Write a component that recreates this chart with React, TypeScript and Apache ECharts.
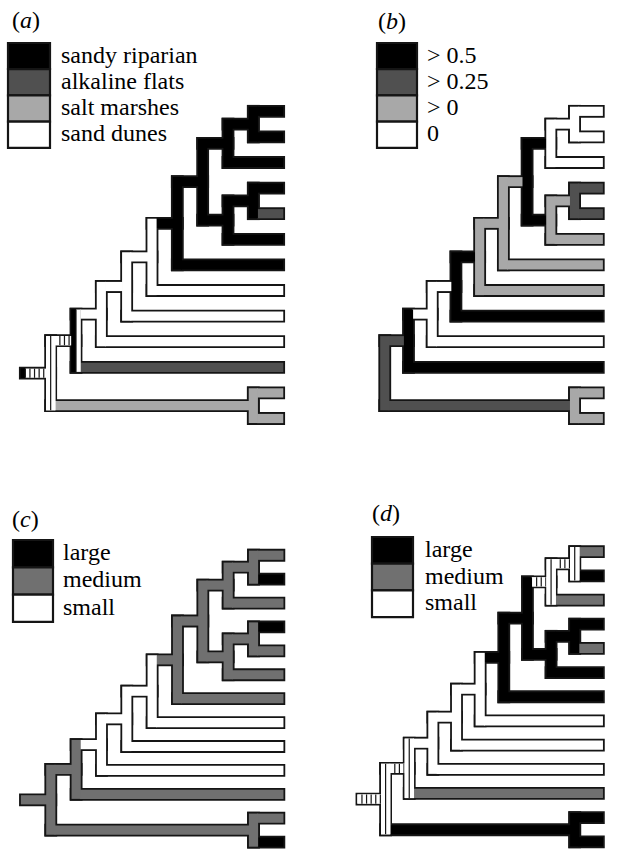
import React, { useEffect, useRef } from 'react';
import * as echarts from 'echarts';

// ---- tree topology (tips top to bottom; internal nodes in post-order) ----
const TIPS = ['t1', 't2', 't3', 't4', 't5', 't6', 't7', 't8', 't9', 't10', 't11', 't12', 't13'];
const NODES = ['N1', 'N2', 'N5', 'N4', 'N3', 'N6', 'E', 'D', 'C', 'A', 'B', 'R'];
const LEFT_CHILD = ['t1', 'N1', 't4', 'N5', 'N2', 'N3', 'N6', 'E', 'D', 'C', 't12', 'A'];
const RIGHT_CHILD = ['t2', 't3', 't5', 't6', 'N4', 't7', 't8', 't9', 't10', 't11', 't13', 'B'];

// ---- state codes: K black, D dark grey, L light grey, M medium grey, W white; several letters = equivocal (striped) ----
// panel (a): habitat
const TIP_COLORS_A = ['K', 'K', 'K', 'K', 'D', 'K', 'K', 'W', 'W', 'W', 'D', 'L', 'L'];
const BRANCH_COLORS_A = ['K', 'K', 'K', 'K', 'K', 'K', 'W', 'W', 'W', 'WW', 'L', 'KWWWWW'];
const NODE_COLORS_A = ['K', 'K', 'K', 'K', 'K', 'K', 'W', 'W', 'W', 'KW', 'L', 'WW'];
// panel (b): probability
const TIP_COLORS_B = ['W', 'W', 'W', 'D', 'D', 'L', 'L', 'L', 'K', 'W', 'K', 'L', 'L'];
const BRANCH_COLORS_B = ['W', 'K', 'L', 'K', 'L', 'L', 'K', 'W', 'W', 'D', 'D', ''];
const NODE_COLORS_B = ['W', 'W', 'D', 'L', 'K', 'L', 'L', 'K', 'W', 'K', 'L', 'D'];
// panel (c): size
const TIP_COLORS_C = ['M', 'K', 'M', 'K', 'M', 'M', 'M', 'W', 'W', 'W', 'M', 'M', 'K'];
const BRANCH_COLORS_C = ['M', 'M', 'M', 'M', 'M', 'M', 'W', 'W', 'W', 'M', 'M', 'M'];
const NODE_COLORS_C = ['M', 'M', 'M', 'M', 'M', 'M', 'W', 'W', 'W', 'M', 'M', 'M'];
// panel (d): size
const TIP_COLORS_D = ['M', 'K', 'M', 'K', 'M', 'K', 'K', 'W', 'W', 'W', 'M', 'K', 'K'];
const BRANCH_COLORS_D = ['WW', 'WW', 'K', 'K', 'K', 'K', 'W', 'W', 'W', 'WW', 'K', 'WW'];
const NODE_COLORS_D = ['WW', 'WW', 'K', 'K', 'K', 'K', 'W', 'W', 'W', 'WW', 'K', 'WW'];

// ---- legends ----
const PANEL_LETTERS = ['a', 'b', 'c', 'd'];
const LEGEND_LABELS_A = ['sandy riparian', 'alkaline flats', 'salt marshes', 'sand dunes'];
const LEGEND_LABELS_B = ['> 0.5', '> 0.25', '> 0', '0'];
const LEGEND_CODES_AB = ['K', 'D', 'L', 'W'];
const LEGEND_LABELS_CD = ['large', 'medium', 'small'];
const LEGEND_CODES_CD = ['K', 'M', 'W'];

const PALETTE: Record<string, string> = { K: '#000000', D: '#505050', L: '#a8a8a8', M: '#707070', W: '#ffffff' };
const OUTLINE = '#151515';
const FONT_FAMILY = "'Liberation Serif', 'Times New Roman', serif";
const FONT_SIZE = 24;
const FONT = `${FONT_SIZE}px ${FONT_FAMILY}`;
const FONT_ITALIC = `italic ${FONT_SIZE}px ${FONT_FAMILY}`;

const HW_OUT = 6.4;
const HW_FILL = 4.6;
const STRIPE = 4.6;
const SEAM = 0.8;
const COL_PX = 12.67;

function layoutTree() {
  const row: Record<string, number> = {};
  const height: Record<string, number> = {};
  const col: Record<string, number> = {};
  const parent: Record<string, string> = {};
  TIPS.forEach((t, i) => { row[t] = 2 * i; height[t] = 0; });
  NODES.forEach((n, i) => {
    const l = LEFT_CHILD[i], r = RIGHT_CHILD[i];
    row[n] = (row[l] + row[r]) / 2;
    height[n] = 1 + Math.max(height[l], height[r]);
    parent[l] = n; parent[r] = n;
  });
  const maxH = height[NODES[NODES.length - 1]];
  TIPS.forEach((t) => { col[t] = 2 * maxH; });
  NODES.forEach((n) => { col[n] = 2 * (maxH - height[n]); });
  return { row, col, parent };
}

type Seg = { kind: 'h' | 'v'; x1: number; x2: number; y1: number; y2: number; code: string; end?: string };

function buildSegments(tipColors: string[], branchColors: string[], nodeColors: string[]): Seg[] {
  const { row, col, parent } = layoutTree();
  const segs: Seg[] = [];
  TIPS.forEach((t, i) => segs.push({ kind: 'h', x1: col[parent[t]], x2: col[t], y1: row[t], y2: row[t], code: tipColors[i], end: 'tip' }));
  NODES.forEach((n, i) => {
    if (!parent[n]) {
      if (branchColors[i]) segs.push({ kind: 'h', x1: col[n] - 2, x2: col[n], y1: row[n], y2: row[n], code: branchColors[i], end: 'stem' });
    } else {
      segs.push({ kind: 'h', x1: col[parent[n]], x2: col[n], y1: row[n], y2: row[n], code: branchColors[i], end: 'node' });
    }
  });
  NODES.forEach((n, i) => {
    const a = row[LEFT_CHILD[i]], b = row[RIGHT_CHILD[i]];
    segs.push({ kind: 'v', x1: col[n], x2: col[n], y1: Math.min(a, b), y2: Math.max(a, b), code: nodeColors[i] });
  });
  return segs;
}

function stripedRects(x: number, y: number, w: number, h: number, code: string, x0: number, w0: number) {
  if (code.length <= 1) {
    return [{ type: 'rect', shape: { x, y, width: w, height: h }, style: { fill: PALETTE[code] } }];
  }
  const out: any[] = [{ type: 'rect', shape: { x, y, width: w, height: h }, style: { fill: PALETTE[code[0]] } }];
  for (let k = 0; ; k++) {
    const sx = x0 + k * STRIPE;
    const sw = Math.min(STRIPE, x0 + w0 - sx);
    if (sw <= 0.01) break;
    out.push({ type: 'rect', shape: { x: sx, y, width: sw + 0.2, height: h }, style: { fill: PALETTE[code[k % code.length]] } });
  }
  for (let k = 1; ; k++) {
    const dx = x0 + k * STRIPE;
    if (dx >= x0 + w0 - 0.5) break;
    out.push({ type: 'rect', shape: { x: dx - 0.6, y, width: 1.2, height: h }, style: { fill: OUTLINE } });
  }
  return out;
}

const PANELS = [
  { x0: 50.6, y0: 111.3, rowPx: 12.8, tip: TIP_COLORS_A, branch: BRANCH_COLORS_A, node: NODE_COLORS_A },
  { x0: 388.0, y0: 111.3, rowPx: 12.8, tip: TIP_COLORS_B, branch: BRANCH_COLORS_B, node: NODE_COLORS_B },
  { x0: 50.8, y0: 556.7, rowPx: 12.68, tip: TIP_COLORS_C, branch: BRANCH_COLORS_C, node: NODE_COLORS_C },
  { x0: 389.0, y0: 553.0, rowPx: 12.75, tip: TIP_COLORS_D, branch: BRANCH_COLORS_D, node: NODE_COLORS_D },
];

const LEGEND_LAYOUT = [
  { labelX: 12, labelY: 20, boxX: 8, boxY: 43, boxW: 42, boxH: 26.2, textX: 61, labels: LEGEND_LABELS_A, codes: LEGEND_CODES_AB },
  { labelX: 378, labelY: 21, boxX: 377, boxY: 43, boxW: 40, boxH: 26.2, textX: 427, labels: LEGEND_LABELS_B, codes: LEGEND_CODES_AB },
  { labelX: 12, labelY: 519, boxX: 13, boxY: 540, boxW: 40, boxH: 27.3, textX: 63, labels: LEGEND_LABELS_CD, codes: LEGEND_CODES_CD },
  { labelX: 372, labelY: 513, boxX: 372, boxY: 537, boxW: 41, boxH: 26.7, textX: 425, labels: LEGEND_LABELS_CD, codes: LEGEND_CODES_CD },
];

function buildOption() {
  const grid: any[] = [], xAxis: any[] = [], yAxis: any[] = [], series: any[] = [], graphic: any[] = [];
  PANELS.forEach((p, k) => {
    grid.push({ left: p.x0 - 4 * COL_PX, top: p.y0 - 2 * p.rowPx, width: 24 * COL_PX, height: 28 * p.rowPx, containLabel: false });
    xAxis.push({ type: 'value', gridIndex: k, min: -4, max: 20, show: false });
    yAxis.push({ type: 'value', gridIndex: k, min: -2, max: 26, inverse: true, show: false });
    const segs = buildSegments(p.tip, p.branch, p.node);
    const data = segs.map((s) => [s.x1, s.y1, s.x2, s.y2]);
    series.push({
      type: 'custom', coordinateSystem: 'cartesian2d', xAxisIndex: k, yAxisIndex: k, z: 1, clip: false, silent: true,
      encode: { x: [0, 2], y: [1, 3] }, data,
      renderItem: (params: any, api: any) => {
        const s = segs[params.dataIndex];
        const p1 = api.coord([s.x1, s.y1]);
        const p2 = api.coord([s.x2, s.y2]);
        return {
          type: 'rect',
          shape: {
            x: Math.min(p1[0], p2[0]) - HW_OUT, y: Math.min(p1[1], p2[1]) - HW_OUT,
            width: Math.abs(p2[0] - p1[0]) + 2 * HW_OUT, height: Math.abs(p2[1] - p1[1]) + 2 * HW_OUT,
          },
          style: { fill: OUTLINE },
        };
      },
    });
    [['h', 2], ['v', 3]].forEach(([kind, z]) => {
      series.push({
        type: 'custom', coordinateSystem: 'cartesian2d', xAxisIndex: k, yAxisIndex: k, z, clip: false, silent: true,
        encode: { x: [0, 2], y: [1, 3] }, data,
        renderItem: (params: any, api: any) => {
          const s = segs[params.dataIndex];
          if (s.kind !== kind) return { type: 'group', children: [] };
          const p1 = api.coord([s.x1, s.y1]);
          const p2 = api.coord([s.x2, s.y2]);
          if (s.kind === 'v') {
            const x1 = p1[0] - HW_FILL, y1 = p1[1] - HW_FILL, w = 2 * HW_FILL, h = p2[1] - p1[1] + 2 * HW_FILL;
            return { type: 'group', children: stripedRects(x1, y1, w, h, s.code, x1, w) };
          }
          const y1 = p1[1] - HW_FILL, h = 2 * HW_FILL;
          let x1: number, x2: number, e1 = 0, e2 = 0;
          if (s.end === 'stem') { x1 = p1[0] - HW_FILL; x2 = p2[0] - HW_FILL; e2 = SEAM; }
          else if (s.end === 'tip') { x1 = p1[0] + HW_FILL; x2 = p2[0] + HW_FILL; e1 = SEAM; }
          else { x1 = p1[0] + HW_FILL; x2 = p2[0] - HW_FILL; e1 = SEAM; e2 = SEAM; }
          return { type: 'group', children: stripedRects(x1 - e1, y1, x2 - x1 + e1 + e2, h, s.code, x1, x2 - x1) };
        },
      });
    });

    const L = LEGEND_LAYOUT[k];
    graphic.push({
      type: 'text', x: L.labelX, y: L.labelY, silent: true,
      style: {
        text: '({i|' + PANEL_LETTERS[k] + '})', font: FONT, fill: '#000',
        verticalAlign: 'middle', align: 'left',
        rich: { i: { font: FONT_ITALIC, fill: '#000' } },
      },
    });
    L.labels.forEach((lab, j) => {
      graphic.push({
        type: 'rect', silent: true,
        shape: { x: L.boxX, y: L.boxY + j * L.boxH, width: L.boxW, height: L.boxH },
        style: { fill: PALETTE[L.codes[j]], stroke: OUTLINE, lineWidth: 2.2 },
      });
      graphic.push({
        type: 'text', silent: true, x: L.textX, y: L.boxY + (j + 0.5) * L.boxH - 1.5,
        style: { text: lab, font: FONT, fill: '#000', verticalAlign: 'middle', align: 'left' },
      });
    });
  });
  return { animation: false, backgroundColor: '#ffffff', grid, xAxis, yAxis, series, graphic };
}

export default function App() {
  const ref = useRef<HTMLDivElement>(null);
  useEffect(() => {
    if (!ref.current) return;
    const chart = echarts.init(ref.current, undefined, { renderer: 'svg' });
    chart.setOption(buildOption() as any);
    return () => chart.dispose();
  }, []);
  return <div ref={ref} style={{ position: 'fixed', left: 0, top: 0, width: 622, height: 866, background: '#fff' }} />;
}
